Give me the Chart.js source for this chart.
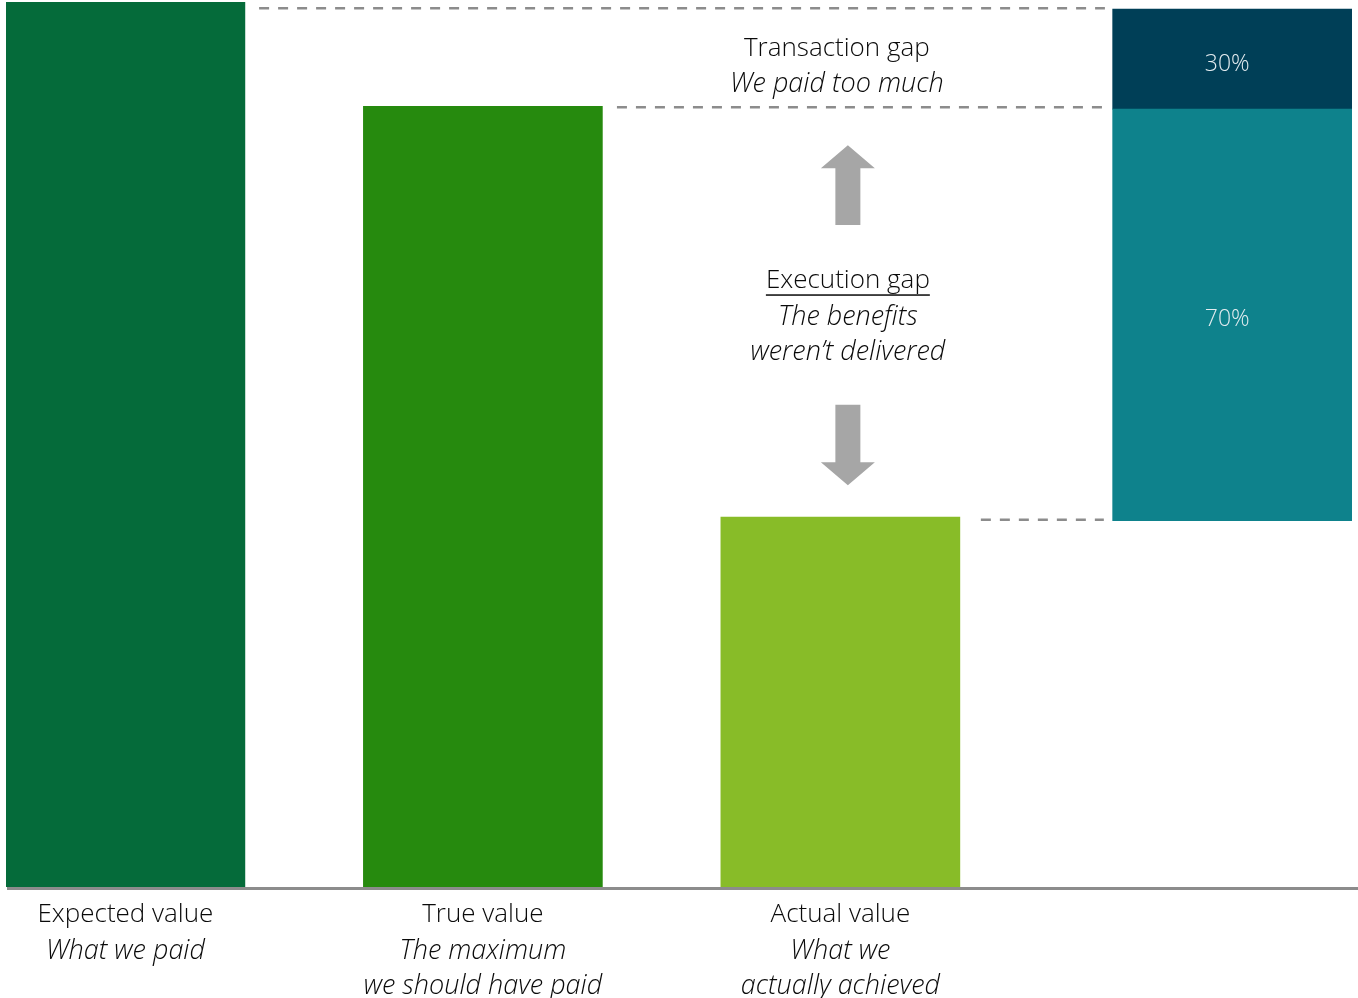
<!DOCTYPE html>
<html>
<head>
<meta charset="utf-8">
<script src="https://cdn.jsdelivr.net/npm/chart.js@4"></script>
<style>
  html, body { margin: 0; padding: 0; background: #fff; }
  #wrap { width: 1358px; height: 998px; }
</style>
</head>
<body>
<div id="wrap"><canvas id="gapChart"></canvas></div>
<script>
// categories + values (value scale: expected = 100)
const categories = ['Expected value', 'True value', 'Actual value'];
const subLines = [['What we paid'], ['The maximum', 'we should have paid'], ['What we', 'actually achieved']];
const catPos = [0, 1, 2];
const values = [100, 88.2, 41.8];
const barColors = ['#056b3a', '#268a0e', '#88bc28'];

// split of the total gap (right bar)
const splitPos = 3.096;
const splitBase = 41.4;
const splitMid = 87.9;
const splitTop = 99.2;
const splitLabels = ['70%', '30%'];

// dashed guide lines [xFrom, xTo, y]
const guideLines = [[0.374, 2.74, 99.3], [1.375, 2.74, 88.1], [2.393, 2.737, 41.5]];

// annotation text
const transLines = ['Transaction gap', 'We paid too much'];
const execLines = ['Execution gap', 'The benefits', 'weren\u2019t delivered'];

const FONT = '"Open Sans"';
const REG = `300 26px ${FONT}`;
const ITA = `italic 300 27px ${FONT}`;

const guideSets = guideLines.map(g => ({
    type: 'line',
    data: [{ x: g[0], y: g[2] }, { x: g[1], y: g[2] }],
    borderColor: '#8c8c8c',
    borderWidth: 2.5,
    borderDash: [10, 9],
    pointRadius: 0,
    fill: false
}));

// text, arrows, baseline
const annot = {
    id: 'annot',
    afterDatasetsDraw(chart) {
        const c = chart.ctx;
        const xs = chart.scales.x, ys = chart.scales.y;
        const area = chart.chartArea;

        // baseline
        c.save();
        c.strokeStyle = '#8c8c8c';
        c.lineWidth = 3;
        c.beginPath();
        c.moveTo(area.left + 1, area.bottom + 1.5);
        c.lineTo(area.right, area.bottom + 1.5);
        c.stroke();

        c.textAlign = 'center';
        c.textBaseline = 'middle';
        c.fillStyle = '#0a0a0a';

        // category labels
        categories.forEach((cat, i) => {
            const x = xs.getPixelForValue(catPos[i]);
            c.font = REG;
            c.fillText(cat, x, area.bottom + 28);
            c.font = ITA;
            subLines[i].forEach((s, j) => c.fillText(s, x, area.bottom + 64 + j * 35));
        });

        // transaction gap
        const tx = xs.getPixelForValue(1.99);
        const ty = (ys.getPixelForValue(guideLines[0][2]) + ys.getPixelForValue(guideLines[1][2])) / 2;
        c.font = REG;
        c.fillText(transLines[0], tx, ty - 9);
        c.font = ITA;
        c.fillText(transLines[1], tx, ty + 27);

        // execution gap
        const ex = xs.getPixelForValue(2.021);
        const ey = ys.getPixelForValue(64.6);
        c.font = REG;
        c.fillText(execLines[0], ex, ey - 35);
        const w = c.measureText(execLines[0]).width;
        c.fillRect(ex - w / 2, ey - 35 + 14, w, 1.5);
        c.font = ITA;
        c.fillText(execLines[1], ex, ey + 2);
        c.fillText(execLines[2], ex, ey + 37);

        // arrows
        c.fillStyle = '#a6a6a6';
        const arrow = (yTip, yEnd) => {
            const dir = Math.sign(yEnd - yTip);
            const head = 23;
            c.beginPath();
            c.moveTo(ex, yTip);
            c.lineTo(ex + 27, yTip + dir * head);
            c.lineTo(ex + 12.5, yTip + dir * head);
            c.lineTo(ex + 12.5, yEnd);
            c.lineTo(ex - 12.5, yEnd);
            c.lineTo(ex - 12.5, yTip + dir * head);
            c.lineTo(ex - 27, yTip + dir * head);
            c.closePath();
            c.fill();
        };
        arrow(ys.getPixelForValue(83.8), ys.getPixelForValue(74.8));
        arrow(ys.getPixelForValue(45.4), ys.getPixelForValue(54.5));

        // split labels
        c.fillStyle = '#e3ecf0';
        c.font = `300 23px ${FONT}`;
        [1, 2].forEach((di, k) => {
            const el = chart.getDatasetMeta(di).data[0];
            c.fillText(splitLabels[k], el.x - 5, (el.y + el.base) / 2 + 5);
        });
        c.restore();
    }
};

new Chart(document.getElementById('gapChart'), {
    data: {
        datasets: [
            {
                type: 'bar',
                data: catPos.map((p, i) => ({ x: p, y: values[i] })),
                backgroundColor: barColors,
                barThickness: 239,
                grouped: false
            },
            {
                type: 'bar',
                data: [{ x: splitPos, y: [splitBase, splitMid] }],
                backgroundColor: '#0e828c',
                barThickness: 239,
                grouped: false
            },
            {
                type: 'bar',
                data: [{ x: splitPos, y: [splitMid, splitTop] }],
                backgroundColor: '#003f57',
                barThickness: 239,
                grouped: false
            },
            ...guideSets
        ]
    },
    options: {
        responsive: true,
        maintainAspectRatio: false,
        animation: false,
        layout: { padding: { left: 6, top: 2, right: 0, bottom: 111 } },
        plugins: { legend: { display: false }, tooltip: { enabled: false } },
        scales: {
            x: { type: 'linear', min: -0.334, max: 3.448, offset: false, display: false },
            y: { min: 0, max: 100, display: false }
        }
    },
    plugins: [annot]
});
</script>
</body>
</html>
